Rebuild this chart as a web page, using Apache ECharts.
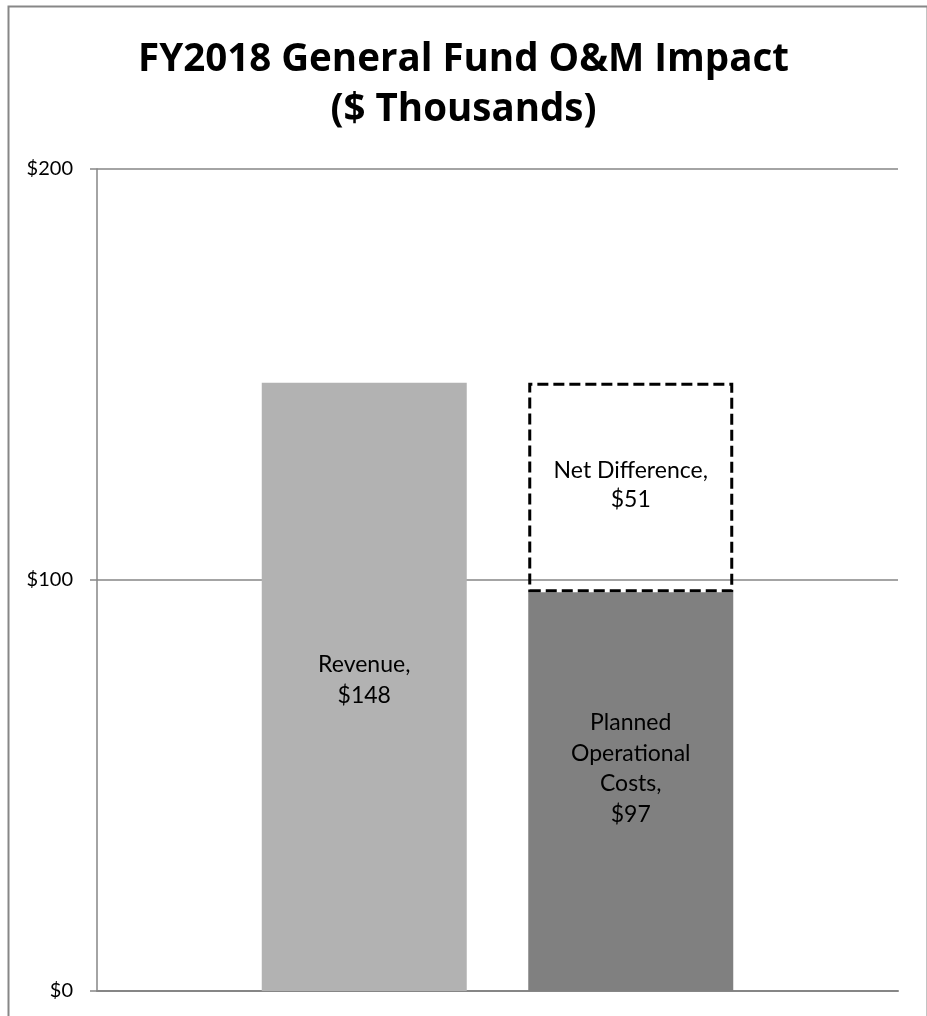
<!DOCTYPE html>
<html><head><meta charset="utf-8">
<script src="https://cdn.jsdelivr.net/npm/echarts@6/dist/echarts.min.js"></script>
<style>html,body{margin:0;padding:0;background:#fff}#c{width:927px;height:1016px}</style>
</head><body><div id="c"></div>
<script>
const categories = ['FY2018'];
const revenue = [148];
const plannedCosts = [97];
const netDifference = [51];
const yTicks = [0, 100, 200];

const FONT = 'Lato, "Liberation Sans", sans-serif';
const TFONT = '"Open Sans", Lato, sans-serif';
const chart = echarts.init(document.getElementById('c'), null, {renderer: 'canvas'});
chart.setOption({
  animation: false,
  backgroundColor: '#fff',
  title: {
    text: 'FY2018 General Fund O&M Impact\n($ Thousands)',
    left: 'center', top: 30,
    textStyle: {fontFamily: TFONT, fontWeight: 'bold', fontSize: 38.5, lineHeight: 50, color: '#000'}
  },
  graphic: [{
    type: 'rect', left: 6, top: 4, silent: true,
    shape: {width: 919, height: 1030},
    style: {fill: 'none', stroke: '#878787', lineWidth: 2}
  }],
  grid: {left: 97, right: 29, top: 169, bottom: 25},
  xAxis: {
    type: 'category', data: categories,
    axisLine: {show: true, lineStyle: {color: '#868686', width: 2}},
    axisTick: {show: false}, axisLabel: {show: false}
  },
  yAxis: {
    type: 'value', min: yTicks[0], max: yTicks[yTicks.length - 1], interval: 100,
    axisLine: {show: true, lineStyle: {color: '#868686', width: 1.5}},
    axisTick: {show: true, length: 7, lineStyle: {color: '#868686', width: 1.5}},
    splitLine: {show: true, lineStyle: {color: '#868686', width: 1.5}},
    axisLabel: {margin: 24, fontFamily: FONT, fontSize: 20, color: '#000', formatter: v => '$' + v}
  },
  series: [
    {
      name: 'Revenue', type: 'bar', data: revenue, barWidth: 205, barGap: '30%',
      itemStyle: {color: '#b2b2b2'},
      label: {show: true, position: 'inside', offset: [0, -7], fontFamily: FONT, fontSize: 23, lineHeight: 31, color: '#000',
        formatter: p => 'Revenue,\n$' + p.value}
    },
    {
      name: 'Planned Operational Costs', type: 'bar', stack: 'b', data: plannedCosts, barWidth: 205,
      itemStyle: {color: '#808080'},
      label: {show: true, position: 'inside', offset: [0, -23], fontFamily: FONT, fontSize: 23, lineHeight: 30.5, color: '#000',
        formatter: p => 'Planned\nOperational\nCosts,\n$' + p.value}
    },
    {
      name: 'Net Difference', type: 'bar', stack: 'b', data: netDifference, barWidth: 205,
      itemStyle: {color: 'rgba(0,0,0,0)', borderColor: '#000', borderWidth: 3, borderType: [11, 5]},
      label: {show: true, position: 'inside', offset: [0, -2], fontFamily: FONT, fontSize: 23, lineHeight: 29, color: '#000',
        formatter: p => 'Net Difference,\n$' + p.value}
    }
  ]
});
</script></body></html>
